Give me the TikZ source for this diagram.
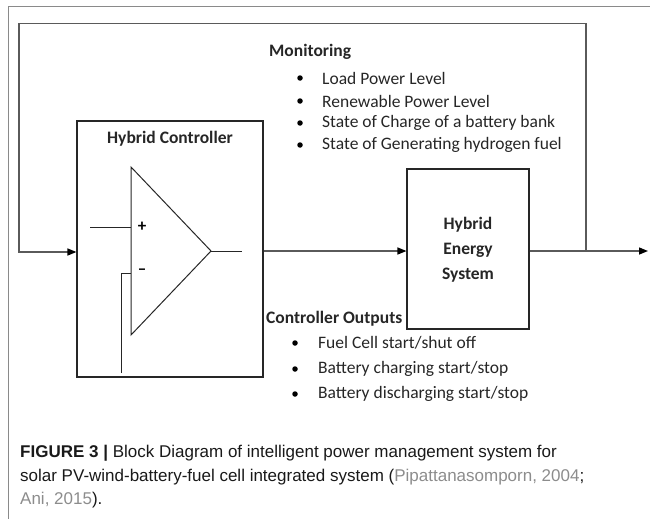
\documentclass[tikz,border=0pt]{standalone}
\usepackage{fontspec}
\setmainfont{Carlito}
\newfontfamily\capfont{Liberation Sans}
\usetikzlibrary{arrows.meta}
\definecolor{framegray}{HTML}{8A8A8A}
\definecolor{linegray}{HTML}{5A5A5A}
\definecolor{citegray}{HTML}{8C8C8C}
\begin{document}
\begin{tikzpicture}[x=1pt,y=-1pt,
  blk/.style={draw=black!85, line width=1.1pt, inner sep=0pt},
  sig/.style={draw=linegray, line width=1.4pt},
  arr/.style={sig, -{Triangle[length=9pt,width=7pt,color=black]}},
  thinl/.style={draw=black!85, line width=1pt},
  lbl/.style={font=\fontsize{17.5}{21}\selectfont, anchor=west, inner sep=0pt, text=black!85},
  hd/.style={lbl, font=\fontsize{17.5}{21}\selectfont\bfseries},
  bul/.style={circle, fill=black, inner sep=0pt, minimum size=5.5pt},
  captxt/.style={anchor=west, inner sep=0pt, font=\capfont\fontsize{17}{20}\selectfont, text=black!90}
]
\useasboundingbox (0,0) rectangle (650,519);
% page frame
\draw[draw=framegray, line width=1.4pt] (650,6.5) -- (8.3,6.5) -- (8.3,519);

\coordinate (sigy) at (0,251);
% blocks
\node[blk, minimum width=186pt, minimum height=256pt] (hc) at (170,249) {};
\node[blk, minimum width=122pt, minimum height=160pt] (hes) at (468,249) {};
\node[hd, anchor=center] (hct) at (170,139) {Hybrid Controller};
\node[hd, anchor=center, align=center, font=\fontsize{17.5}{25}\selectfont\bfseries] (hest) at (468,250) {Hybrid\\Energy\\System};

% op-amp
\coordinate (ta) at (131,167);
\coordinate (tb) at (211,251);
\coordinate (tc) at (131,335);
\draw[thinl, line join=miter] (ta) -- (tb) -- (tc) -- cycle;
\coordinate (pin) at (90,227);
\coordinate (pinb) at (131,227);
\draw[thinl] (pin) -- (pinb);
\node[font=\fontsize{17}{20}\selectfont\bfseries, inner sep=0pt] (plus) at (142,227) {+};
\coordinate (min0) at (121,373);
\coordinate (min1) at (121,273);
\coordinate (min2) at (131,273);
\draw[thinl] (min0) -- (min1) -- (min2);
\node[font=\fontsize{17}{20}\selectfont\bfseries, inner sep=0pt] (minus) at (142,272) {\textendash};
\coordinate (oend) at (242,251);
\draw[thinl] (tb) -- (oend);

% signal paths
\draw[arr] (hc.east |- sigy) -- (hes.west |- sigy);
\coordinate (junc) at (586,251);
\coordinate (outend) at (648,251);
\draw[arr] (hes.east |- sigy) -- (outend);
\coordinate (fb1) at (586,23.5);
\coordinate (fb2) at (19,23.5);
\coordinate (fb3) at (19,252);
\draw[arr] (junc) -- (fb1) -- (fb2) -- (fb3) -- (hc.west |- fb3);

% monitoring
\node[hd] (mon) at (269,52) {Monitoring};
\foreach \y/\t [count=\i] in {78/Load Power Level, 101/Renewable Power Level, 123/State of Charge of a battery bank, 145/State of Generating hydrogen fuel}{
  \node[bul] (mb\i) at (300,\y) {};
  \node[lbl] (mt\i) at (322,\y) {\t};
}
% controller outputs
\node[hd] (cout) at (266,319) {Controller Outputs};
\foreach \y/\t [count=\i] in {343/Fuel Cell start\slash shut off, 369/Battery charging start\slash stop, 394/Battery discharging start\slash stop}{
  \node[bul] (cb\i) at (295,\y) {};
  \node[lbl] (ct\i) at (318,\y) {\t};
}

% caption
\node[captxt] (cap1) at (20,453) {{\bfseries FIGURE 3 |} Block Diagram of intelligent power management system for};
\node[captxt] (cap2) at (20,477) {solar PV-wind-battery-fuel cell integrated system (\textcolor{citegray}{Pipattanasomporn, 2004};};
\node[captxt] (cap3) at (20,500) {\textcolor{citegray}{Ani, 2015}).};
\end{tikzpicture}
\end{document}
